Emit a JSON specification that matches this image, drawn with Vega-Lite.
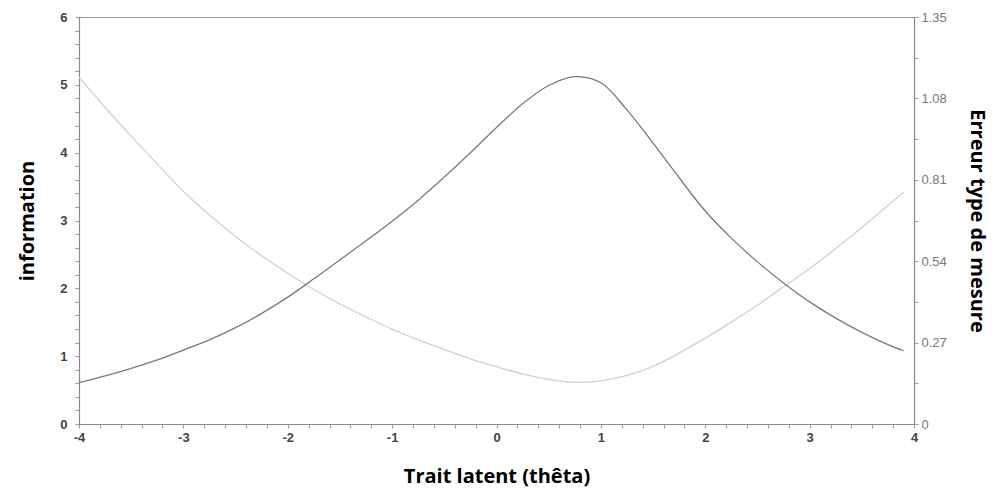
{
  "$schema": "https://vega.github.io/schema/vega-lite/v6.json",
  "width": 835,
  "height": 407,
  "autosize": "none",
  "padding": {"left": 79, "top": 17, "right": 83, "bottom": 78},
  "background": "white",
  "config": {
    "view": {"stroke": "#9a9a9a", "strokeWidth": 1},
    "axis": {
      "grid": false,
      "domainColor": "#8a8a8a",
      "domainWidth": 1.2,
      "tickColor": "#9a9a9a",
      "tickSize": 4,
      "labelFont": "Liberation Sans",
      "labelFontSize": 13,
      "labelFontWeight": "bold",
      "labelColor": "#444444",
      "labelOverlap": false,
      "labelFlush": false,
      "titleFont": "Open Sans",
      "titleFontSize": 20,
      "titleFontWeight": "bold",
      "titleColor": "#000000"
    },
    "axisX": {"labelOverlap": false},
    "axisBottom": {"labelOverlap": false}
  },
  "data": {
    "values": [
      {"theta": -4.0, "info": 0.61, "se": 1.15},
      {"theta": -3.75, "info": 0.71, "se": 1.05},
      {"theta": -3.5, "info": 0.82, "se": 0.955},
      {"theta": -3.25, "info": 0.945, "se": 0.862},
      {"theta": -3.0, "info": 1.09, "se": 0.772},
      {"theta": -2.75, "info": 1.24, "se": 0.693},
      {"theta": -2.5, "info": 1.42, "se": 0.622},
      {"theta": -2.25, "info": 1.63, "se": 0.558},
      {"theta": -2.0, "info": 1.87, "se": 0.5},
      {"theta": -1.75, "info": 2.14, "se": 0.446},
      {"theta": -1.5, "info": 2.42, "se": 0.398},
      {"theta": -1.25, "info": 2.7, "se": 0.355},
      {"theta": -1.0, "info": 2.99, "se": 0.315},
      {"theta": -0.75, "info": 3.3, "se": 0.279},
      {"theta": -0.5, "info": 3.64, "se": 0.247},
      {"theta": -0.25, "info": 4.0, "se": 0.216},
      {"theta": 0.0, "info": 4.37, "se": 0.19},
      {"theta": 0.25, "info": 4.72, "se": 0.166},
      {"theta": 0.5, "info": 4.99, "se": 0.148},
      {"theta": 0.75, "info": 5.12, "se": 0.138},
      {"theta": 1.0, "info": 5.03, "se": 0.143},
      {"theta": 1.25, "info": 4.63, "se": 0.161},
      {"theta": 1.5, "info": 4.14, "se": 0.191},
      {"theta": 1.75, "info": 3.63, "se": 0.235},
      {"theta": 2.0, "info": 3.14, "se": 0.285},
      {"theta": 2.25, "info": 2.74, "se": 0.338},
      {"theta": 2.5, "info": 2.39, "se": 0.394},
      {"theta": 2.75, "info": 2.08, "se": 0.455},
      {"theta": 3.0, "info": 1.8, "se": 0.516},
      {"theta": 3.25, "info": 1.56, "se": 0.582},
      {"theta": 3.5, "info": 1.35, "se": 0.652},
      {"theta": 3.75, "info": 1.17, "se": 0.725},
      {"theta": 3.9, "info": 1.08, "se": 0.768}
    ]
  },
  "encoding": {
    "x": {
      "field": "theta",
      "type": "quantitative",
      "scale": {"domain": [-4, 4], "nice": false},
      "axis": {
        "title": "Trait latent (thêta)",
        "titlePadding": 22,
        "values": [-4, -3.8, -3.6, -3.4, -3.2, -3, -2.8, -2.6, -2.4, -2.2, -2, -1.8, -1.6, -1.4, -1.2, -1, -0.8, -0.6, -0.4, -0.2, 0, 0.2, 0.4, 0.6, 0.8, 1, 1.2, 1.4, 1.6, 1.8, 2, 2.2, 2.4, 2.6, 2.8, 3, 3.2, 3.4, 3.6, 3.8, 4],
        "labelExpr": "abs(datum.value - round(datum.value)) < 0.001 ? '' + round(datum.value) : ''",
        "labelPadding": 3,
        "labelOverlap": false,
        "labelBound": false
      }
    }
  },
  "layer": [
    {
      "mark": {"type": "line", "color": "#d0d0d0", "strokeWidth": 1.3, "interpolate": "catmull-rom"},
      "encoding": {
        "y": {
          "field": "se",
          "type": "quantitative",
          "scale": {"domain": [0, 1.35], "nice": false},
          "axis": {
            "orient": "right",
            "title": "Erreur type de mesure",
            "titlePadding": 20,
            "values": [0, 0.135, 0.27, 0.405, 0.54, 0.675, 0.81, 0.945, 1.08, 1.215, 1.35],
            "labelExpr": "round(datum.value / 0.135) % 2 == 0 ? (datum.value == 0 ? '0' : format(datum.value, '.2f')) : ''",
            "labelColor": "#777777",
            "labelFontWeight": "normal",
            "labelPadding": 3,
            "labelOverlap": false
          }
        }
      }
    },
    {
      "mark": {"type": "line", "color": "#7a7a7a", "strokeWidth": 1.3, "interpolate": "catmull-rom"},
      "encoding": {
        "y": {
          "field": "info",
          "type": "quantitative",
          "scale": {"domain": [0, 6], "nice": false},
          "axis": {
            "orient": "left",
            "title": "information",
            "titlePadding": 22,
            "values": [0, 0.2, 0.4, 0.6, 0.8, 1, 1.2, 1.4, 1.6, 1.8, 2, 2.2, 2.4, 2.6, 2.8, 3, 3.2, 3.4, 3.6, 3.8, 4, 4.2, 4.4, 4.6, 4.8, 5, 5.2, 5.4, 5.6, 5.8, 6],
            "labelExpr": "abs(datum.value - round(datum.value)) < 0.001 ? '' + round(datum.value) : ''",
            "labelPadding": 8,
            "labelOverlap": false
          }
        }
      }
    }
  ],
  "resolve": {"scale": {"y": "independent"}}
}
